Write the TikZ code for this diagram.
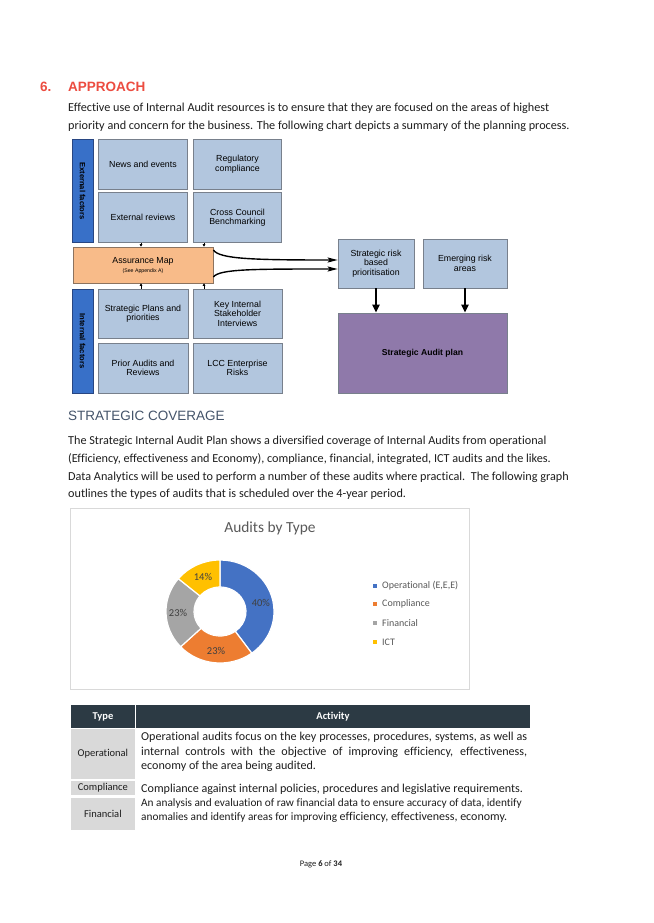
\documentclass[tikz,border=0pt]{standalone}
\usepackage{fontspec}
\setmainfont{Carlito}[Ligatures=NoCommon]
\newfontfamily\arial{Liberation Sans}
\usetikzlibrary{arrows.meta}
\definecolor{boxblue}{RGB}{178,198,222}
\definecolor{boxline}{RGB}{120,128,140}
\definecolor{barblue}{RGB}{56,112,200}
\definecolor{barline}{RGB}{40,70,130}
\definecolor{peach}{RGB}{248,187,137}
\definecolor{peachline}{RGB}{140,115,95}
\definecolor{plum}{RGB}{143,121,170}
\definecolor{headred}{RGB}{236,76,64}
\definecolor{slate}{RGB}{68,84,106}
\definecolor{bodytext}{RGB}{30,30,30}
\definecolor{cblue}{RGB}{68,114,196}
\definecolor{corange}{RGB}{237,125,49}
\definecolor{cgray}{RGB}{165,165,165}
\definecolor{cyellow}{RGB}{255,192,0}
\definecolor{chartframe}{RGB}{217,217,217}
\definecolor{legtext}{RGB}{89,89,89}
\definecolor{hdrdark}{RGB}{44,58,68}
\definecolor{cellgray}{RGB}{217,217,217}
\begin{document}
\begin{tikzpicture}[x=1pt,y=-1pt,
  body/.style={anchor=base west, inner sep=0pt, font=\fontsize{12.2}{14}\selectfont, text=bodytext},
  fbox/.style={draw=boxline, line width=0.7pt, fill=boxblue, align=center, inner sep=1pt,
    font=\arial\fontsize{8.8}{9.4}\selectfont},
  sidebar/.style={draw=barline, line width=0.7pt, fill=barblue, inner sep=0pt, rotate=-90,
    font=\arial\bfseries\fontsize{7.6}{8}\selectfont},
  smallarr/.style={line width=0.6pt, -{Triangle[length=2.6pt,width=2.8pt]}},
  curvearr/.style={line width=1.4pt, -{Stealth[length=10pt,width=5pt,inset=2pt]}},
  downarr/.style={line width=2pt, -{Triangle[length=8pt,width=7pt]}},
  pct/.style={font=\fontsize{10.5}{12}\selectfont, text={rgb,255:red,64;green,64;blue,64}},
  legend/.style={anchor=west, inner sep=0pt, font=\fontsize{10}{11}\selectfont, text=legtext},
  typecell/.style={fill=cellgray, minimum width=64pt, inner sep=0pt, font=\fontsize{10.5}{12}\selectfont, text=bodytext},
  acttext/.style={anchor=base west, inner sep=0pt, font=\fontsize{12.1}{13}\selectfont, text=bodytext},
  fintext/.style={anchor=base west, inner sep=0pt, font=\fontsize{11.3}{12}\selectfont, text=bodytext}
]
\useasboundingbox[fill=white] (0,0) rectangle (653,923);

% ---- heading and intro
\node[anchor=base west, inner sep=0pt, font=\arial\bfseries\fontsize{13.5}{15}\selectfont, text=headred] (num) at (40,92) {6.};
\node[anchor=base west, inner sep=0pt, font=\arial\bfseries\fontsize{13.5}{15}\selectfont, text=headred] (head) at (68,92) {APPROACH};
\node[body] (p1a) at (68,112) {Effective use of Internal Audit resources is to ensure that they are focused on the areas of highest};
\node[body] (p1b) at (68,130) {priority and concern for the business. The following chart depicts a summary of the planning process.};

% ---- planning diagram
\node[sidebar, minimum width=103pt, minimum height=21pt] (extbar) at (82.5,191) {External factors};
\node[fbox, minimum width=89.5pt, minimum height=50pt] (news) at (143,164.3) {News and events};
\node[fbox, minimum width=88.5pt, minimum height=50pt] (reg) at (237.5,164.3) {Regulatory\\compliance};
\node[fbox, minimum width=89.5pt, minimum height=50.5pt] (extrev) at (143,217.5) {External reviews};
\node[fbox, minimum width=88.5pt, minimum height=50.5pt] (cross) at (237.5,217.5) {Cross Council\\Benchmarking};

\node[draw=peachline, line width=0.7pt, fill=peach, minimum width=140pt, minimum height=36pt, inner sep=0pt] (assur) at (143,265) {};
\node[inner sep=0pt, font=\arial\fontsize{8.8}{9}\selectfont] (assurt) at (143,261) {Assurance Map};
\node[inner sep=0pt, font=\arial\fontsize{5.2}{6}\selectfont] (assurs) at (143,271) {(See Appendix A)};

\node[sidebar, minimum width=104pt, minimum height=21pt] (intbar) at (82.5,341) {Internal factors};
\node[fbox, minimum width=90pt, minimum height=49pt] (strat) at (143,313.5) {Strategic Plans and\\priorities};
\node[fbox, minimum width=89pt, minimum height=49pt] (key) at (237.5,313.5) {Key Internal\\Stakeholder\\Interviews};
\node[fbox, minimum width=90pt, minimum height=50pt] (prior) at (143,368) {Prior Audits and\\Reviews};
\node[fbox, minimum width=89pt, minimum height=50pt] (lcc) at (237.5,368) {LCC Enterprise\\Risks};

\node[fbox, minimum width=76pt, minimum height=49pt] (srisk) at (376,263.5) {Strategic risk\\based\\prioritisation};
\node[fbox, minimum width=84pt, minimum height=49pt] (emerg) at (465,263.5) {Emerging risk\\areas};
\node[fbox, fill=plum, minimum width=169pt, minimum height=80pt, font=\arial\bfseries\fontsize{8.6}{9.3}\selectfont] (plan) at (422.5,353) {Strategic Audit plan};

\coordinate (ca) at (141,0);
\coordinate (cb) at (204,0);
\draw[smallarr] (extrev.south -| ca) -- (assur.north -| ca);
\draw[smallarr] (cross.south -| cb) -- (assur.north -| cb);
\draw[smallarr] (strat.north -| ca) -- (assur.south -| ca);
\draw[smallarr] (key.north -| cb) -- (assur.south -| cb);

\draw[curvearr] ([yshift=15pt]assur.east) .. controls +(6,9) and +(-85,0) .. ([yshift=3.5pt]srisk.west);
\draw[curvearr] ([yshift=-12pt]assur.east) .. controls +(6,-8) and +(-85,0) .. ([yshift=-5.5pt]srisk.west);

\draw[downarr] (srisk.south) -- (srisk.south |- plan.north);
\draw[downarr] (emerg.south) -- (emerg.south |- plan.north);

% ---- strategic coverage
\node[anchor=base west, inner sep=0pt, font=\arial\fontsize{13.5}{15}\selectfont, text=slate] (sc) at (68,420) {STRATEGIC COVERAGE};
\node[body] (p2a) at (68,444) {The Strategic Internal Audit Plan shows a diversified coverage of Internal Audits from operational};
\node[body] (p2b) at (68,462) {(Efficiency, effectiveness and Economy), compliance, financial, integrated, ICT audits and the likes.};
\node[body] (p2c) at (68,480) {Data Analytics will be used to perform a number of these audits where practical.\ \ The following graph};
\node[body] (p2d) at (68,497) {outlines the types of audits that is scheduled over the 4-year period.};

% ---- chart
\node[draw=chartframe, line width=0.6pt, minimum width=399pt, minimum height=181pt, inner sep=0pt] (chart) at (269.5,598.5) {};
\node[font=\fontsize{15.4}{17}\selectfont, text=legtext] (ctitle) at (270,528) {Audits by Type};
\begin{scope}[shift={(220,611.5)}, x=1pt, y=1pt]
  \def\Rx{54}\def\Ry{51.5}\def\rx{26}\def\ry{24.5}
  \foreach \a/\b/\c in {90/-54/cblue, -54/-136.8/corange, -136.8/-219.6/cgray, -219.6/-270/cyellow}{
    \filldraw[fill=\c, draw=white, line width=1.2pt]
      (\a:\Rx pt and \Ry pt) arc[start angle=\a, end angle=\b, x radius=\Rx pt, y radius=\Ry pt]
      -- (\b:\rx pt and \ry pt) arc[start angle=\b, end angle=\a, x radius=\rx pt, y radius=\ry pt] -- cycle;
  }
  \node[pct] (l40) at (13:42pt and 39pt) {40\%};
  \node[pct] (l23a) at (-95.4:42pt and 40pt) {23\%};
  \node[pct] (l23b) at (-178.2:42pt and 39pt) {23\%};
  \node[pct] (l14) at (115.2:40pt and 38pt) {14\%};
\end{scope}
\fill[cblue] (373,584) rectangle (377,588);
\fill[corange] (373,602) rectangle (377,606);
\fill[cgray] (373,621) rectangle (377,625);
\fill[cyellow] (373,640) rectangle (377,644);
\node[legend] (lg1) at (382,586) {Operational (E,E,E)};
\node[legend] (lg2) at (382,604) {Compliance};
\node[legend] (lg3) at (382,623) {Financial};
\node[legend] (lg4) at (382,642) {ICT};

% ---- table
\fill[hdrdark] (70.7,705) rectangle (530,728);
\draw[white, line width=1pt] (135,705) -- (135,728);
\node[font=\bfseries\fontsize{10.5}{12}\selectfont, text=white] (th1) at (103,716.5) {Type};
\node[font=\bfseries\fontsize{10.5}{12}\selectfont, text=white] (th2) at (333,716.5) {Activity};

\node[typecell, minimum height=50pt] (op) at (102.9,754) {Operational};
\node[typecell, minimum height=14pt] (comp) at (102.9,788) {Compliance};
\node[typecell, minimum height=32pt] (fin) at (102.9,814) {Financial};

\node[acttext] (o1) at (141,740) {\makebox[386pt][s]{Operational audits focus on the key processes, procedures, systems, as well as}};
\node[acttext] (o2) at (141,755) {\makebox[386pt][s]{internal controls with the objective of improving efficiency, effectiveness,}};
\node[acttext] (o3) at (141,769.5) {economy of the area being audited.};
\node[acttext] (c1) at (141,792.5) {Compliance against internal policies, procedures and legislative requirements.};
\node[fintext] (f1) at (141,806) {An analysis and evaluation of raw financial data to ensure accuracy of data, identify};
\node[fintext] (f2) at (141,820.5) {anomalies and identify areas for improving {\fontsize{12}{13}\selectfont efficiency, effectiveness, economy.}};

% ---- footer
\node[font=\fontsize{8.5}{9}\selectfont, text=bodytext] (pg) at (321,864) {Page \textbf{6} of \textbf{34}};
\end{tikzpicture}
\end{document}
